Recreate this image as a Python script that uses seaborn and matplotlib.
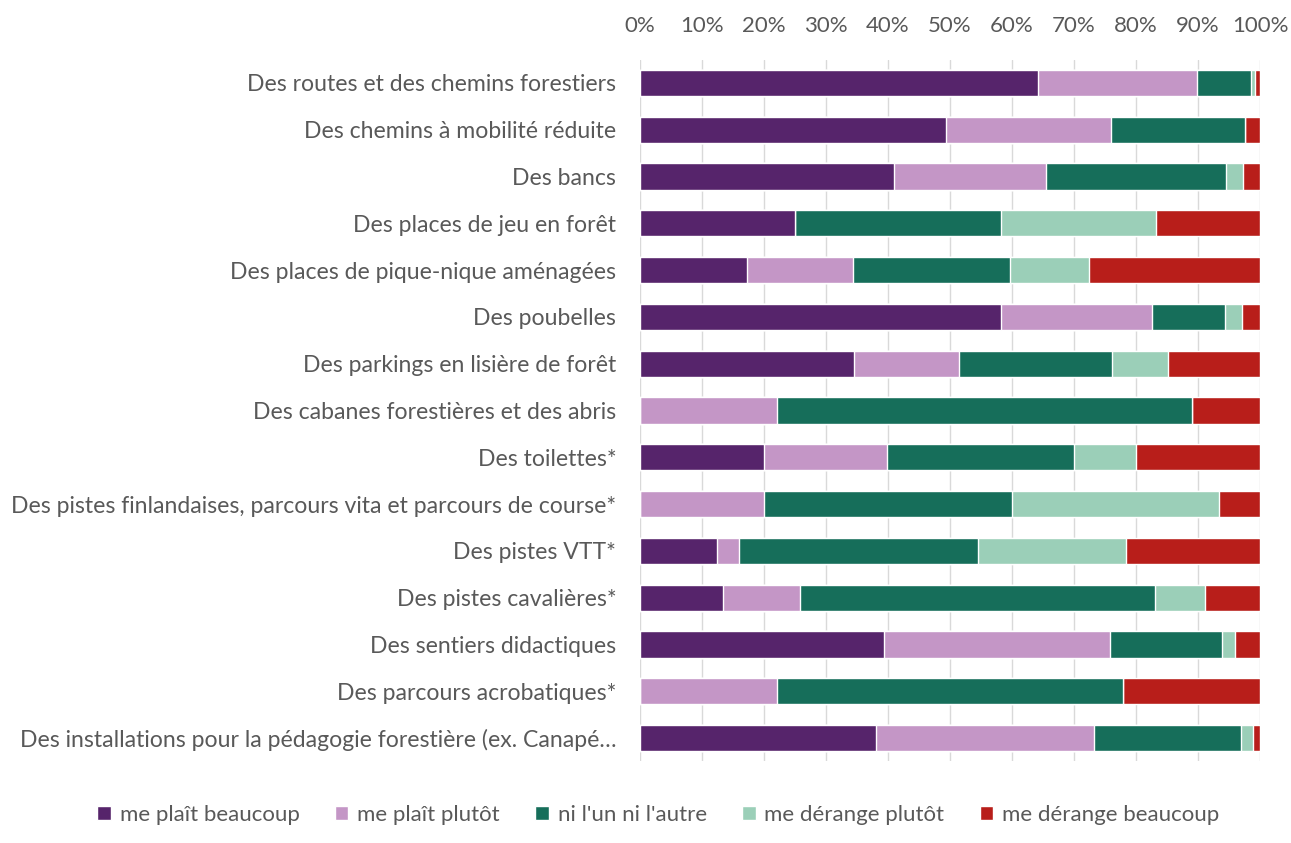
import numpy as np
import pandas as pd
import matplotlib
matplotlib.use("Agg")
import matplotlib.pyplot as plt
from matplotlib.patches import Patch
import seaborn as sns

categories = [
    "Des routes et des chemins forestiers",
    "Des chemins à mobilité réduite",
    "Des bancs",
    "Des places de jeu en forêt",
    "Des places de pique-nique aménagées",
    "Des poubelles",
    "Des parkings en lisière de forêt",
    "Des cabanes forestières et des abris",
    "Des toilettes*",
    "Des pistes finlandaises, parcours vita et parcours de course*",
    "Des pistes VTT*",
    "Des pistes cavalières*",
    "Des sentiers didactiques",
    "Des parcours acrobatiques*",
    "Des installations pour la pédagogie forestière (ex. Canapé…",
]

series = ["me plaît beaucoup", "me plaît plutôt", "ni l'un ni l'autre",
          "me dérange plutôt", "me dérange beaucoup"]

plait_beaucoup = [64.2, 49.3, 40.9, 25.0, 17.3, 58.3, 34.6, 0.0, 20.0, 0.0, 12.4, 13.4, 39.3, 0.0, 38.1]
plait_plutot = [25.6, 26.7, 24.6, 0.0, 17.1, 24.3, 16.8, 22.1, 19.9, 20.0, 3.5, 12.4, 36.5, 22.1, 35.1]
ni_ni = [8.7, 21.5, 29.0, 33.3, 25.3, 11.7, 24.8, 66.9, 30.1, 40.0, 38.6, 57.2, 18.1, 55.8, 23.7]
derange_plutot = [0.7, 0.0, 2.8, 25.0, 12.7, 2.8, 9.0, 0.0, 10.0, 33.4, 23.9, 8.1, 2.0, 0.0, 2.0]
derange_beaucoup = [0.8, 2.5, 2.7, 16.7, 27.6, 2.9, 14.8, 11.0, 20.0, 6.6, 21.6, 8.9, 4.1, 22.1, 1.1]

colors = ["#56246B", "#C496C6", "#166E5A", "#9BCFB8", "#B81E1A"]

df = pd.DataFrame({
    "cat": categories,
    series[0]: plait_beaucoup,
    series[1]: plait_plutot,
    series[2]: ni_ni,
    series[3]: derange_plutot,
    series[4]: derange_beaucoup,
})
cum = df[series].cumsum(axis=1)
# scale so each row totals 100%
cum = cum.div(cum[series[-1]], axis=0) * 100
cum["cat"] = df["cat"]

sns.set_style("white")
plt.rcParams["font.family"] = ["Lato", "DejaVu Sans"]
txt = "#595959"

fig = plt.figure(figsize=(12.91, 8.43), dpi=100)
ax = fig.add_axes([0.4957, 0.0968, 0.4803, 0.8325])

# overlay cumulative bars, widest first
for s, c in reversed(list(zip(series, colors))):
    sns.barplot(data=cum, y="cat", x=s, color=c, orient="h", width=0.56,
                saturation=1, ax=ax, zorder=3)

ax.set_xlim(0, 100)
ax.set_ylim(14.5, -0.5)
ax.set_xticks(np.arange(0, 101, 10))
ax.set_xticklabels([f"{v}%" for v in range(0, 101, 10)])
ax.xaxis.tick_top()
ax.tick_params(axis="x", length=0, pad=17, labelsize=16, labelcolor=txt)
ax.tick_params(axis="y", length=0, pad=17, labelsize=16.6, labelcolor=txt)
ax.grid(axis="x", color="#D9D9D9", linewidth=1, zorder=0)
ax.set_axisbelow(True)
for sp in ax.spines.values():
    sp.set_visible(False)
ax.set_xlabel("")
ax.set_ylabel("")

handles = [Patch(facecolor=c, label=s) for s, c in zip(series, colors)]
fig.legend(handles=handles, loc="center", bbox_to_anchor=(0.51, 0.033), ncol=5,
           frameon=False, fontsize=16, handlelength=0.6, handleheight=0.6,
           handletextpad=0.4, columnspacing=1.6, labelcolor=txt)

fig.savefig("out.png", dpi=100)
